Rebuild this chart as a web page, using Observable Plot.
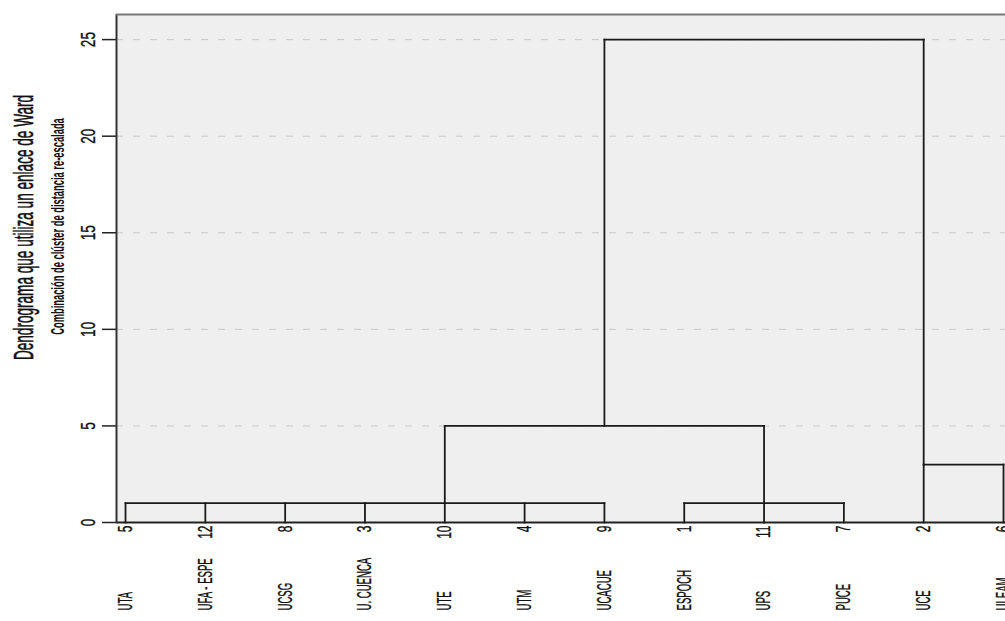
<!DOCTYPE html>
<html>
<head>
<meta charset="utf-8">
<script src="https://cdn.jsdelivr.net/npm/d3@7"></script>
<script src="https://cdn.jsdelivr.net/npm/@observablehq/plot@0.6"></script>
<style>
  html, body { margin: 0; padding: 0; background: #ffffff; }
  #chart { width: 1005px; height: 621px; overflow: hidden; }
</style>
</head>
<body>
<div id="chart"></div>
<script>
// ---- data ----
const titleText = "Dendrograma que utiliza un enlace de Ward";
const subtitleText = "Combinación de clúster de distancia re-escalada";
const caseNumbers = ["5", "12", "8", "3", "10", "4", "9", "1", "11", "7", "2", "6"];
const caseNames = ["UTA", "UFA - ESPE", "UCSG", "U. CUENCA", "UTE", "UTM", "UCACUE", "ESPOCH", "UPS", "PUCE", "UCE", "ULEAM"];
const leafJoinHeight = [1, 1, 1, 1, 1, 1, 1, 1, 1, 1, 3, 3];
// clusters: first leaf index, last leaf index, join height, stem leaf index, parent join height
const clusterFirst = [0, 7, 4, 10, 6];
const clusterLast = [6, 9, 8, 11, 10];
const clusterHeight = [1, 1, 5, 3, 25];
const clusterStem = [4, 8, 6, 10, null];
const clusterParentHeight = [5, 5, 25, 25, null];
const yTicks = [0, 5, 10, 15, 20, 25];
const yMax = 26.3;
const xDomain = [-0.113, 11.025];

// ---- build segments ----
const leafSegs = caseNumbers.map((_, i) => ({x1: i, x2: i, y1: 0, y2: leafJoinHeight[i]}));
const joinSegs = clusterFirst.map((f, k) => ({x1: f, x2: clusterLast[k], y1: clusterHeight[k], y2: clusterHeight[k]}));
const stemSegs = clusterStem
  .map((s, k) => s == null ? null : ({x1: s, x2: s, y1: clusterHeight[k], y2: clusterParentHeight[k]}))
  .filter(Boolean);
const segs = [...leafSegs, ...joinSegs, ...stemSegs];
const leaves = caseNumbers.map((n, i) => ({i, n, name: caseNames[i]}));

const font = "'Liberation Sans', Arial, sans-serif";
const ink = "#111";

const svg = Plot.plot({
  width: 1005,
  height: 621,
  marginLeft: 116,
  marginRight: 0,
  marginTop: 14,
  marginBottom: 99,
  style: {fontFamily: font, background: "#ffffff", overflow: "hidden", color: ink},
  x: {type: "linear", domain: xDomain, axis: null},
  y: {type: "linear", domain: [0, yMax], axis: null},
  marks: [
    Plot.frame({fill: "#efefef", stroke: null}),
    Plot.gridY(yTicks.filter(d => d > 0), {stroke: "#c9c9c9", strokeOpacity: 1, strokeDasharray: "7,10"}),
    Plot.axisY({ticks: yTicks, tickSize: 14, tickFormat: () => "", stroke: "#222", strokeWidth: 1.5}),
    Plot.ruleX([xDomain[0]], {stroke: "#333", strokeWidth: 2}),
    Plot.ruleY([yMax], {stroke: "#777", strokeWidth: 2}),
    Plot.ruleY([0], {stroke: "#222", strokeWidth: 2}),
    Plot.link(segs, {x1: "x1", y1: "y1", x2: "x2", y2: "y2", stroke: "#1a1a1a", strokeWidth: 1.8, strokeLinecap: "square"}),
    // 0: y tick labels
    Plot.text(yTicks, {y: d => d, frameAnchor: "left", dx: -28, text: d => String(d), rotate: -90,
      textAnchor: "middle", lineAnchor: "middle", fontSize: 21, fill: ink, stroke: ink, strokeWidth: 0.35}),
    // 1: case numbers
    Plot.text(leaves, {x: "i", y: 0, dy: 3, text: "n", rotate: -90, textAnchor: "end", lineAnchor: "middle",
      fontSize: 20, fill: ink, stroke: ink, strokeWidth: 0.35}),
    // 2: case names
    Plot.text(leaves, {x: "i", frameAnchor: "bottom", dy: 88, text: "name", rotate: -90, textAnchor: "start",
      lineAnchor: "middle", fontSize: 20, fill: ink, stroke: ink, strokeWidth: 0.35}),
    // 3: title
    Plot.text([titleText], {frameAnchor: "left", dx: -92, dy: -41, text: d => d, rotate: -90, textAnchor: "middle",
      lineAnchor: "middle", fontSize: 28, fill: ink, stroke: ink, strokeWidth: 0.6}),
    // 4: subtitle
    Plot.text([subtitleText], {frameAnchor: "left", dx: -58, dy: -42, text: d => d, rotate: -90, textAnchor: "middle",
      lineAnchor: "middle", fontSize: 18, fontWeight: "bold", fill: ink})
  ]
});

// condensed appearance: squeeze text along its reading direction (text marks in order)
const squeeze = [0.65, 0.6, 0.48, 0.485, 0.52];
svg.querySelectorAll('g[aria-label="text"]').forEach((g, k) => {
  const s = squeeze[k] ?? 1;
  g.querySelectorAll("text").forEach(t => {
    const tr = t.getAttribute("transform") || "";
    t.setAttribute("transform", `${tr} scale(${s},1)`);
  });
});

document.getElementById("chart").appendChild(svg);
</script>
</body>
</html>
